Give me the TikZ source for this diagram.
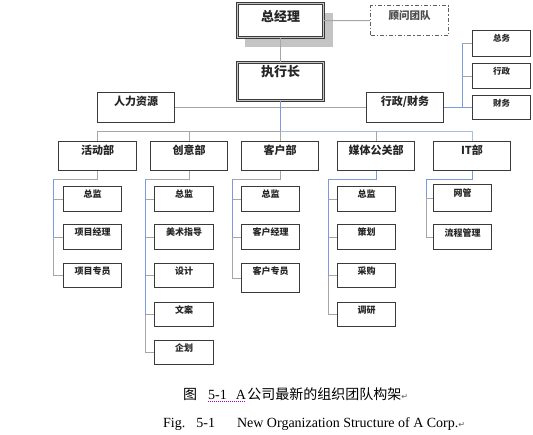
\documentclass[tikz,border=0pt]{standalone}
\usepackage{fontspec}
\setmainfont{Liberation Serif}
\newfontfamily\cjk{Noto Sans CJK SC}
\newfontfamily\djv{DejaVu Sans}
\definecolor{bd}{HTML}{3A3A3A}
\definecolor{ln}{HTML}{A6A6A6}
\definecolor{bl}{HTML}{7C9ADC}
\definecolor{lbl}{HTML}{A9BDE0}
\definecolor{shd}{HTML}{C4C4C4}
\definecolor{mg}{HTML}{B000C8}
\newcommand\bx[8]{%
  \node[#5, minimum width={(#3-#1)*1pt}, minimum height={(#4-#2)*1pt}, anchor=north west] (#6) at (#1,#2) {};
  \node[#7] (#6t) at (#6.north) {#8};}
\tikzset{
  box/.style={draw=bd, line width=1.1pt, fill=white, inner sep=0pt},
  bigbox/.style={draw=bd, double=gray!45, double distance=1pt, line width=1pt, fill=white, inner sep=0pt},
  dbox/.style={draw=gray!75!black, line width=1.1pt, dash pattern=on 4pt off 2pt on 1.2pt off 2pt, fill=white, inner sep=0pt},
  tx/.style 2 args={font=\cjk\bfseries\fontsize{#1}{#1}\selectfont, anchor=base, inner sep=0pt, text=black!85, yshift=-#2pt},
  txr/.style 2 args={font=\cjk\bfseries\fontsize{#1}{#1}\selectfont, anchor=base, inner sep=0pt, text=black!70, yshift=-#2pt},
  conn/.style={draw=ln, line width=1pt},
  bconn/.style={draw=bl, line width=1pt},
  lbconn/.style={draw=lbl, line width=1pt},
}
\begin{document}
\begin{tikzpicture}[x=1pt,y=-1pt]
\useasboundingbox[fill=white] (0,0) rectangle (533,434);
% shadow
\fill[shd] (245,13) rectangle (333,47);
% top
\bx{237}{3}{323}{37}{bigbox}{zjl}{tx={13}{18}}{总经理}
\bx{370}{5}{448}{35}{dbox}{gw}{txr={10.5}{14}}{顾问团队}
\bx{237}{62}{323}{100}{bigbox}{zxz}{tx={13}{14}}{执行长}
\bx{97}{92}{174}{122}{box}{rl}{tx={11}{13}}{人力资源}
\bx{366}{92}{443}{122}{box}{xc}{tx={11}{13}}{行政/财务}
\bx{472}{30}{530}{56}{box}{zw}{tx={8.5}{11.5}}{总务}
\bx{472}{63}{530}{88}{box}{xz}{tx={8.5}{11.5}}{行政}
\bx{472}{95}{530}{119}{box}{cw}{tx={8.5}{11.5}}{财务}
% departments
\bx{58}{141}{136}{170}{box}{hd}{tx={11}{13}}{活动部}
\bx{150}{141}{227}{170}{box}{cy}{tx={11}{13}}{创意部}
\bx{241}{141}{318}{170}{box}{kh}{tx={11}{13}}{客户部}
\bx{337}{141}{414}{170}{box}{mt}{tx={11}{13}}{媒体公关部}
\bx{433}{141}{510}{170}{box}{it}{tx={11}{13}}{IT部}
% children
\bx{63}{186}{121}{211}{box}{hda}{tx={9}{11.5}}{总监}
\bx{63}{224}{121}{249}{box}{hdb}{tx={9}{11.5}}{项目经理}
\bx{63}{263}{121}{287}{box}{hdc}{tx={9}{11.5}}{项目专员}
\bx{154}{186}{213}{211}{box}{cya}{tx={9}{11.5}}{总监}
\bx{154}{224}{213}{249}{box}{cyb}{tx={9}{11.5}}{美术指导}
\bx{154}{263}{213}{287}{box}{cyc}{tx={9}{11.5}}{设计}
\bx{154}{302}{213}{326}{box}{cyd}{tx={9}{11.5}}{文案}
\bx{154}{340}{213}{364}{box}{cye}{tx={9}{11.5}}{企划}
\bx{241}{186}{299}{211}{box}{kha}{tx={9}{11.5}}{总监}
\bx{241}{224}{299}{249}{box}{khb}{tx={9}{11.5}}{客户经理}
\bx{241}{263}{299}{292}{box}{khc}{tx={9}{11.5}}{客户专员}
\bx{337}{186}{395}{211}{box}{mta}{tx={9}{11.5}}{总监}
\bx{337}{224}{395}{249}{box}{mtb}{tx={9}{11.5}}{策划}
\bx{337}{263}{395}{287}{box}{mtc}{tx={9}{11.5}}{采购}
\bx{337}{302}{395}{326}{box}{mtd}{tx={9}{11.5}}{调研}
\bx{433}{184}{491}{211}{box}{ita}{tx={9}{12}}{网管}
\bx{433}{224}{491}{249}{box}{itb}{tx={9}{12}}{流程管理}
% connectors top
\draw[conn] (zjl.east) -- (gw.west);
\draw[conn] (zjl.south) -- (zxz.north);
\draw[conn] (rl.east) -- (xc.west);
\coordinate (bus) at (0,131);
\draw[bconn] (zxz.south) -- (zxz.south |- bus);
\draw[conn] (hd.north |- bus) -- (kh.north |- bus);
\draw[lbconn] (kh.north |- bus) -- (it.north |- bus);
\foreach \d in {hd,cy,kh,mt}{\draw[conn] (\d.north) -- (\d.north |- bus);}
\draw[lbconn] (it.north) -- (it.north |- bus);
% right group
\coordinate (rs) at (462,107);
\draw[bconn] (xc.east) -- (cw.west);
\draw[bconn] (rs |- zw.west) -- (rs |- cw.west);
\draw[conn] (zw.west) -- (zw.west -| rs);
\draw[conn] (xz.west) -- (xz.west -| rs);
% children spines
\coordinate (s1) at (53,179);
\coordinate (s2) at (145,179);
\coordinate (s3) at (232,179);
\coordinate (s4) at (328,179);
\coordinate (s5) at (426,179);
\draw[conn] (hd.south) |- (s1) |- (hdc.west);
\draw[conn] (cy.south) |- (s2) |- (cye.west);
\draw[conn] (kh.south) |- (s3) |- (khc.west);
\draw[bconn] (mt.south) |- (s4);
\draw[conn] (s4) |- (mtd.west);
\draw[bconn] (it.south) |- (s5);
\draw[conn] (s5) |- (itb.west);
\foreach \c/\s in {hda/s1,hdb/s1,cya/s2,cyb/s2,cyc/s2,cyd/s2,kha/s3,khb/s3,mta/s4,mtb/s4,mtc/s4,ita/s5}{\draw[conn] (\c.west) -- (\c.west -| \s);}
\draw[bconn] (s1) -- (s1 |- hdb.west);
\draw[bconn] (s2) -- (s2 |- cyd.west);
\draw[bconn] (s3) -- (s3 |- khb.west);
\draw[bconn] (s4) -- (s4 |- mtc.west);
\draw[bconn] (s5) -- (s5 |- ita.west);
% caption
\node[anchor=base west, inner sep=0pt] (cap1) at (183,399) {\fontsize{14}{14}\selectfont{\cjk 图}\hspace{11pt}5-1\hspace{9pt}A\hspace{1.5pt}{\cjk 公司最新的组织团队构架}{\djv\fontsize{8}{8}\selectfont\color{gray!70!black}↵}};
\draw[mg, line width=0.8pt, dash pattern=on 0.8pt off 1.2pt] (208,401.5) -- (245,401.5);
\node[anchor=base west, inner sep=0pt] (cap2) at (163,427) {\fontsize{14}{14}\selectfont Fig.\hspace{11pt}5-1\hspace{22pt}New Organization Structure of A Corp.{\djv\fontsize{8}{8}\selectfont\color{gray!70!black}↵}};
\end{tikzpicture}
\end{document}
